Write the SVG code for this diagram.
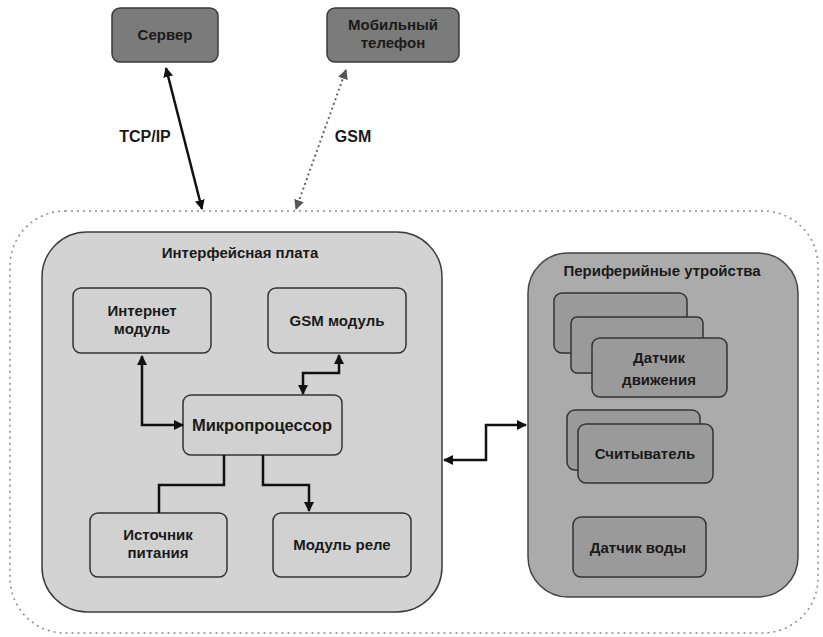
<svg xmlns="http://www.w3.org/2000/svg" width="823" height="637" viewBox="0 0 823 637">
  <style>
    text { font-family: "Liberation Sans", Arial, sans-serif; font-weight: bold; font-size: 15px; fill: #1a1a1a; text-anchor: middle; }
    .ext { fill: #7b7b7b; stroke: #3a3a3a; stroke-width: 1.5; }
    .board { fill: #d3d3d3; stroke: #3c3c3c; stroke-width: 1.5; }
    .mod { fill: #d1d1d1; stroke: #333; stroke-width: 1.5; }
    .periph { fill: #ababab; stroke: #444; stroke-width: 1.5; }
    .dev { fill: #9a9a9a; stroke: #333; stroke-width: 1.5; }
    .outer { fill: none; stroke: #8a8a8a; stroke-width: 1.5; stroke-dasharray: 2 4; }
    .link { fill: none; stroke: #111; stroke-width: 2.5; }
    .wire { fill: none; stroke: #111; stroke-width: 2.5; }
    .dotted { fill: none; stroke: #666; stroke-width: 2; stroke-dasharray: 2 3; }
  </style>
  <defs>
    <marker id="ah" viewBox="0 0 10 10" refX="9" refY="5" markerWidth="4" markerHeight="4" orient="auto-start-reverse">
      <path d="M0,0 L10,5 L0,10 Z" fill="#111"/>
    </marker>
    <marker id="ahg" viewBox="0 0 10 10" refX="9" refY="5" markerWidth="5" markerHeight="5" orient="auto-start-reverse">
      <path d="M0,0 L10,5 L0,10 Z" fill="#555"/>
    </marker>
  </defs>

  <!-- system boundary -->
  <rect class="outer" x="10" y="211" width="808" height="422" rx="55"/>

  <g id="server">
    <rect class="ext" x="112" y="8" width="106" height="54" rx="8"/>
    <text x="165" y="40">Сервер</text>
  </g>
  <g id="phone">
    <rect class="ext" x="327" y="8" width="132" height="54" rx="8"/>
    <text x="393" y="30">Мобильный</text>
    <text x="393" y="48">телефон</text>
  </g>

  <g id="interface-board">
    <rect class="board" x="42" y="232" width="400" height="380" rx="45"/>
    <text x="240" y="258">Интерфейсная плата</text>
  </g>
  <g id="internet-module">
    <rect class="mod" x="73" y="288" width="138" height="65" rx="8"/>
    <text x="142" y="316">Интернет</text>
    <text x="142" y="334">модуль</text>
  </g>
  <g id="gsm-module">
    <rect class="mod" x="268" y="288" width="138" height="65" rx="8"/>
    <text x="337" y="326">GSM модуль</text>
  </g>
  <g id="cpu">
    <rect class="mod" x="183" y="395" width="159" height="60" rx="8"/>
    <text x="262" y="431" style="font-size:16.5px">Микропроцессор</text>
  </g>
  <g id="power">
    <rect class="mod" x="90" y="513" width="137" height="64" rx="8"/>
    <text x="158" y="540">Источник</text>
    <text x="158" y="558">питания</text>
  </g>
  <g id="relay">
    <rect class="mod" x="273" y="513" width="138" height="64" rx="8"/>
    <text x="342" y="550">Модуль реле</text>
  </g>

  <g id="peripherals">
    <rect class="periph" x="528" y="253" width="270" height="344" rx="40"/>
    <text x="662" y="276">Периферийные утройства</text>
  </g>
  <g id="motion-sensor">
    <rect class="dev" x="554" y="293" width="133" height="60" rx="8"/>
    <rect class="dev" x="571" y="317" width="132" height="56" rx="6"/>
    <rect class="dev" x="592" y="338" width="135" height="59" rx="8"/>
    <text x="659" y="363">Датчик</text>
    <text x="659" y="385">движения</text>
  </g>
  <g id="reader">
    <rect class="dev" x="567" y="410" width="133" height="60" rx="8"/>
    <rect class="dev" x="578" y="424" width="135" height="59" rx="8"/>
    <text x="645" y="459">Считыватель</text>
  </g>
  <g id="water-sensor">
    <rect class="dev" x="573" y="517" width="133" height="60" rx="8"/>
    <text x="638" y="553">Датчик воды</text>
  </g>

  <g id="connectors">
    <line class="link" x1="166" y1="68" x2="202" y2="209" marker-start="url(#ah)" marker-end="url(#ah)"/>
    <line class="dotted" x1="346" y1="70" x2="296" y2="209" marker-start="url(#ahg)" marker-end="url(#ahg)"/>
    <path class="wire" d="M142,356 V425 H183" marker-start="url(#ah)" marker-end="url(#ah)"/>
    <path class="wire" d="M339,355 V373 H303 V394" marker-start="url(#ah)" marker-end="url(#ah)"/>
    <path class="wire" d="M224,455 V485 H159 V513"/>
    <path class="wire" d="M263,455 V485 H309 V511" marker-end="url(#ah)"/>
    <path class="wire" d="M444,460 H486 V425 H526" marker-start="url(#ah)" marker-end="url(#ah)"/>
    <text x="145" y="142" style="font-size:16px">TCP/IP</text>
    <text x="353" y="142" style="font-size:16px">GSM</text>
  </g>
</svg>
